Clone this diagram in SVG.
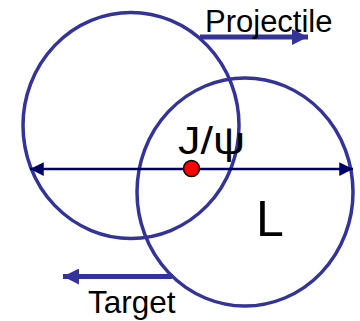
<svg xmlns="http://www.w3.org/2000/svg" width="360" height="321" viewBox="0 0 360 321">
<style>
.ring{fill:none;stroke:#333399;stroke-width:3.5}
.lbl{font-family:"Liberation Sans",Arial,sans-serif;fill:#000}
</style>
<defs>
<marker id="hn" viewBox="0 0 10 10" refX="10" refY="5" markerWidth="6.5" markerHeight="5.5" markerUnits="strokeWidth" orient="auto-start-reverse">
<path d="M0,0 L10,5 L0,10 z" fill="#000066"/>
</marker>
<marker id="hb" viewBox="0 0 10 10" refX="10" refY="5" markerWidth="3.2" markerHeight="3.2" markerUnits="strokeWidth" orient="auto">
<path d="M0,0 L10,5 L0,10 z" fill="#333399"/>
</marker>
</defs>
<g id="projectile-nucleus"><ellipse class="ring" cx="131" cy="125.5" rx="108" ry="113"/></g>
<g id="target-nucleus"><ellipse class="ring" cx="245" cy="192" rx="108" ry="114"/></g>
<g id="connectors">
<line x1="30" y1="169" x2="353" y2="169" stroke="#000066" stroke-width="2.5" marker-start="url(#hn)" marker-end="url(#hn)"/>
<line x1="200" y1="37" x2="308" y2="37" stroke="#333399" stroke-width="5" marker-end="url(#hb)"/>
<line x1="172" y1="276.5" x2="63" y2="276.5" stroke="#333399" stroke-width="5" marker-end="url(#hb)"/>
</g>
<g id="jpsi">
<circle cx="191.5" cy="168.5" r="8" fill="#ff0000" stroke="#000" stroke-width="1.5"/>
<text class="lbl" x="178" y="154" font-size="39" textLength="67" lengthAdjust="spacingAndGlyphs">J/ψ</text>
</g>
<g id="label-L"><text class="lbl" x="256" y="236" font-size="50">L</text></g>
<g id="label-projectile"><text class="lbl" x="205" y="32" font-size="31">Projectile</text></g>
<g id="label-target"><text class="lbl" x="88" y="312.5" font-size="31.5">Target</text></g>
</svg>
